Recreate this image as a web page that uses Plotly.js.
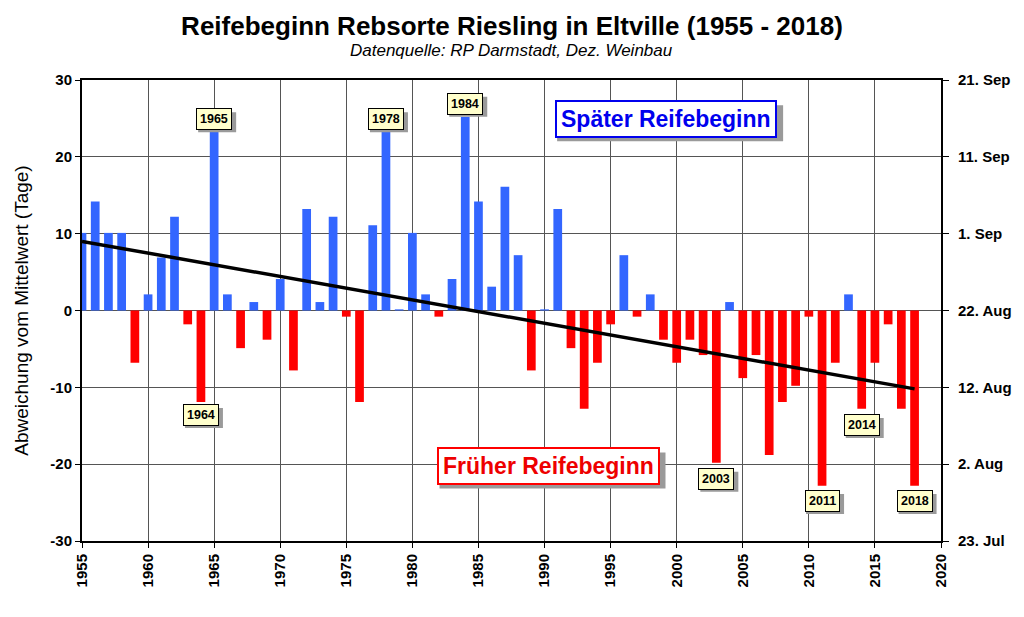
<!DOCTYPE html>
<html>
<head>
<meta charset="utf-8">
<script src="https://cdn.plot.ly/plotly-3.0.1.min.js"></script>
<style>
  html, body { margin: 0; padding: 0; background: #ffffff; }
  #chart { width: 1024px; height: 617px; }
</style>
</head>
<body>
<div id="chart"></div>
<script>
// ---- Data ----
const years = [];
for (let y = 1955; y <= 2018; y++) years.push(y);

const deviation = [
  10.1, 14.2, 10.1, 10.1, -6.8, 2.1, 6.9, 12.2, -1.8, -11.9,   // 1955-1964
  23.3, 2.1, -4.9, 1.1, -3.8, 4.1, -7.8, 13.2, 1.1, 12.2,      // 1965-1974
  -0.8, -11.9, 11.1, 23.3, 0.15, 10.1, 2.1, -0.8, 4.1, 25.2,   // 1975-1984
  14.2, 3.1, 16.1, 7.2, -7.8, 0.15, 13.2, -4.9, -12.8, -6.8,   // 1985-1994
  -1.8, 7.2, -0.8, 2.1, -3.8, -6.8, -3.8, -5.8, -19.8, 1.1,    // 1995-2004
  -8.8, -5.8, -18.8, -11.9, -9.8, -0.8, -22.8, -6.8, 2.1, -12.8, // 2005-2014
  -6.8, -1.8, -12.8, -22.8                                      // 2015-2018
];

const trendYears = [1955, 2018];
const trendValues = [9.0, -10.2];

const labelYears = [1965, 1978, 1984, 1964, 2003, 2011, 2014, 2018];
const labelValues = [24.9, 24.9, 26.9, -13.6, -21.9, -24.8, -14.9, -24.8];

const xTicks = [1955, 1960, 1965, 1970, 1975, 1980, 1985, 1990, 1995, 2000, 2005, 2010, 2015, 2020];
const yTicks = [-30, -20, -10, 0, 10, 20, 30];
const dateLabels = ['23. Jul', '2. Aug', '12. Aug', '22. Aug', '1. Sep', '11. Sep', '21. Sep'];

const lateText = 'Später Reifebeginn';
const earlyText = 'Früher Reifebeginn';

// ---- Styles ----
const BLUE = '#3366ff';
const RED = '#ff0000';
const barColors = deviation.map(v => v >= 0 ? BLUE : RED);
const FONT = 'Arial, "Liberation Sans", sans-serif';
const NARROW = '"Liberation Sans Narrow", "Arial Narrow", Arial, sans-serif';
const SHADOW = '#9a9a9a';

const traces = [
  {
    type: 'bar',
    x: years,
    y: deviation,
    marker: { color: barColors, line: { width: 0 } },
    width: 0.66,
    hoverinfo: 'x+y',
    showlegend: false
  },
  {
    type: 'scatter',
    mode: 'lines',
    x: trendYears,
    y: trendValues,
    line: { color: '#000000', width: 3.5 },
    hoverinfo: 'skip',
    showlegend: false
  },
  {
    type: 'scatter',
    mode: 'markers',
    x: [years[0]],
    y: [0],
    yaxis: 'y2',
    marker: { opacity: 0 },
    hoverinfo: 'skip',
    showlegend: false
  }
];

const annotations = [];
const shapes = [];

function shadowShape(x, y, halfW, halfH, off) {
  shapes.push({
    type: 'rect', layer: 'above',
    xref: 'x', yref: 'y', xsizemode: 'pixel', ysizemode: 'pixel',
    xanchor: x, yanchor: y,
    x0: -halfW + off, x1: halfW + off, y0: -halfH - off, y1: halfH - off,
    fillcolor: SHADOW, line: { width: 0 }
  });
}

labelYears.forEach((yr, i) => {
  shadowShape(yr, labelValues[i], 19, 10, 3);
  annotations.push({
    x: yr, y: labelValues[i], xref: 'x', yref: 'y',
    text: '<b>' + yr + '</b>', showarrow: false,
    font: { family: FONT, size: 12.5, color: '#000000' },
    bgcolor: '#ffffcc', bordercolor: '#000000', borderwidth: 1, borderpad: 3
  });
});

function boxLabel(text, x, y, color, border) {
  shadowShape(x, y, 113, 18, 4);
  annotations.push({
    x: x, y: y, xref: 'x', yref: 'y', text: '<b>' + text + '</b>', showarrow: false,
    font: { family: FONT, size: 23, color: color },
    bgcolor: '#ffffff', bordercolor: border, borderwidth: 2, borderpad: 4
  });
}
boxLabel(lateText, 1999.2, 24.9, '#0000ee', '#0000ee');
boxLabel(earlyText, 1990.3, -20.3, '#ee0000', '#ff0000');

// subtitle
annotations.push({
  xref: 'paper', yref: 'paper', x: 0.5, y: 1, yanchor: 'bottom', yshift: 18,
  text: '<i>Datenquelle: RP Darmstadt, Dez. Weinbau</i>', showarrow: false,
  font: { family: NARROW, size: 17, color: '#000000' }
});

const layout = {
  width: 1024,
  height: 617,
  margin: { l: 82, r: 83, t: 80, b: 76 },
  paper_bgcolor: '#ffffff',
  plot_bgcolor: '#ffffff',
  title: {
    text: '<b>Reifebeginn Rebsorte Riesling in Eltville (1955 - 2018)</b>',
    font: { family: NARROW, size: 26, color: '#000000' },
    x: 0.5, xanchor: 'center', y: 0.958, yanchor: 'middle'
  },
  xaxis: {
    range: [1955, 2020],
    tickvals: xTicks,
    ticktext: xTicks.map(t => '<b>' + t + '</b>'),
    tickangle: -90,
    tickfont: { family: FONT, size: 15, color: '#000000' },
    showgrid: true, gridcolor: '#555555', gridwidth: 1,
    showline: true, linecolor: '#000000', linewidth: 2, mirror: true,
    ticks: 'outside', ticklen: 5, tickcolor: '#000000',
    zeroline: false, fixedrange: true
  },
  yaxis: {
    range: [-30, 30],
    tickvals: yTicks,
    ticktext: yTicks.map(t => '<b>' + t + '</b>'),
    tickfont: { family: FONT, size: 15, color: '#000000' },
    showgrid: true, gridcolor: '#555555', gridwidth: 1,
    showline: true, linecolor: '#000000', linewidth: 2,
    ticks: 'outside', ticklen: 5, tickcolor: '#000000',
    zeroline: true, zerolinecolor: '#555555', zerolinewidth: 1,
    title: {
      text: 'Abweichung vom Mittelwert (Tage)',
      font: { family: FONT, size: 19, color: '#000000' },
      standoff: 17
    },
    fixedrange: true
  },
  yaxis2: {
    overlaying: 'y',
    side: 'right',
    range: [-30, 30],
    tickvals: yTicks,
    ticktext: dateLabels.map(t => '<b>' + t + '</b>'),
    tickfont: { family: FONT, size: 15, color: '#000000' },
    showgrid: false, zeroline: false,
    showline: true, linecolor: '#000000', linewidth: 2,
    ticks: 'outside', ticklen: 6, tickcolor: '#000000',
    ticklabelstandoff: 6,
    fixedrange: true
  },
  shapes: shapes,
  annotations: annotations,
  showlegend: false
};

Plotly.newPlot('chart', traces, layout, { displayModeBar: false, staticPlot: true });
</script>
</body>
</html>
